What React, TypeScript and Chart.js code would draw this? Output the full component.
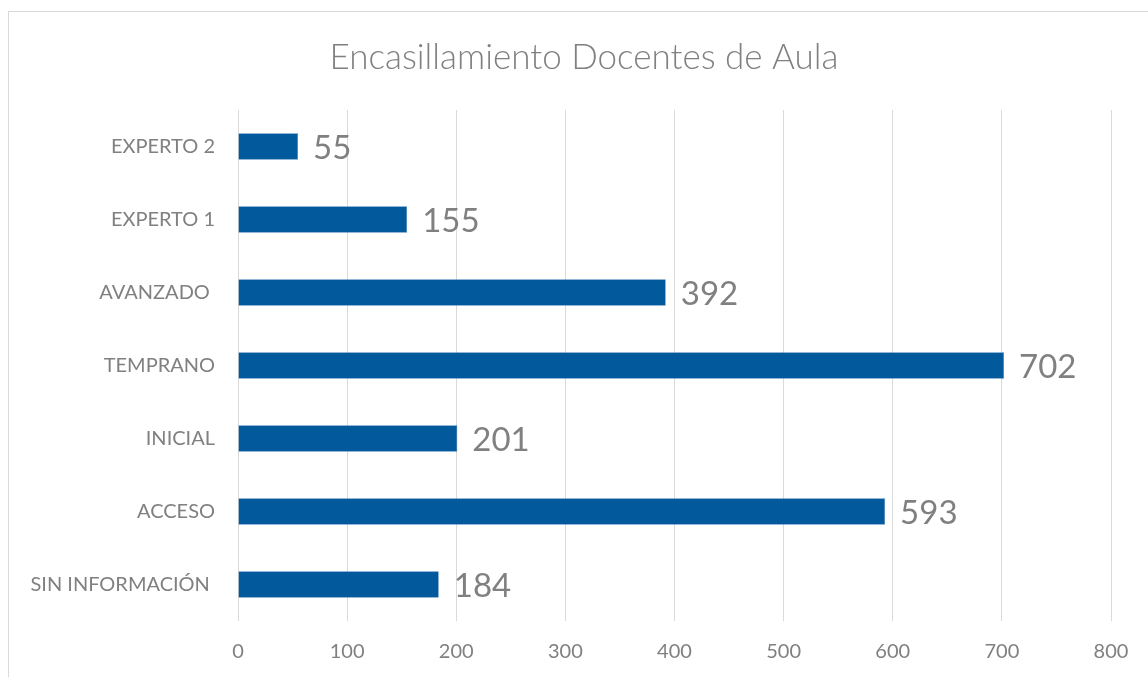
import React, { useEffect, useRef } from "react";
import { Chart, registerables } from "chart.js";

Chart.register(...registerables);

const titleText = "Encasillamiento Docentes de Aula";
const categories = [
  "EXPERTO 2",
  "EXPERTO 1",
  "AVANZADO ",
  "TEMPRANO",
  "INICIAL",
  "ACCESO",
  "SIN INFORMACIÓN ",
];
const values = [55, 155, 392, 702, 201, 593, 184];
const xMin = 0;
const xMax = 800;
const xStep = 100;

const FONT = "Lato, 'Open Sans', sans-serif";
const GRAY = "#808080";

const valueLabels = {
  id: "valueLabels",
  afterDatasetsDraw(chart: any) {
    const ctx = chart.ctx;
    const meta = chart.getDatasetMeta(0);
    ctx.save();
    ctx.font = `33px ${FONT}`;
    ctx.fillStyle = GRAY;
    ctx.textAlign = "left";
    ctx.textBaseline = "middle";
    meta.data.forEach((bar: any, i: number) => {
      ctx.fillText(String(values[i]), bar.x + 15, bar.y + 2);
    });
    ctx.restore();
  },
};

const offsetTitle = {
  id: "offsetTitle",
  afterDraw(chart: any) {
    const ctx = chart.ctx;
    ctx.save();
    ctx.font = `300 35px ${FONT}`;
    ctx.fillStyle = GRAY;
    ctx.textAlign = "center";
    ctx.textBaseline = "middle";
    ctx.fillText(titleText, chart.width / 2 + 10, 58);
    ctx.restore();
  },
};

export default function App() {
  const ref = useRef<HTMLCanvasElement | null>(null);
  useEffect(() => {
    if (!ref.current) return;
    const chart = new Chart(ref.current, {
      type: "bar",
      data: {
        labels: categories,
        datasets: [
          {
            data: values,
            backgroundColor: "#02599C",
            borderColor: "#3f7fb5",
            borderWidth: 0.6,
            barPercentage: 0.36,
            categoryPercentage: 1,
          },
        ],
      },
      options: {
        indexAxis: "y",
        animation: false,
        responsive: false,
        devicePixelRatio: 1,
        layout: { padding: { left: 0, right: 37, top: 110, bottom: 0 } },
        plugins: {
          legend: { display: false },
          tooltip: { enabled: false },
          title: { display: false },
        },
        scales: {
          x: {
            min: xMin,
            max: xMax,
            ticks: {
              stepSize: xStep,
              color: GRAY,
              font: { family: FONT, size: 20 },
              padding: 19,
            },
            grid: { color: "#d9d9d9", drawTicks: false },
            border: { display: false },
            afterFit: (s: any) => {
              s.height = 56;
            },
          },
          y: {
            ticks: {
              color: GRAY,
              font: { family: FONT, size: 20 },
              padding: 23,
            },
            grid: { display: false, drawTicks: false },
            border: { display: false },
            afterFit: (s: any) => {
              s.width = 238;
            },
          },
        },
      },
      plugins: [valueLabels, offsetTitle],
    });
    return () => chart.destroy();
  }, []);

  return (
    <div
      style={{
        position: "fixed",
        left: 0,
        top: 0,
        width: 1148,
        height: 677,
        overflow: "hidden",
        background: "#fff",
      }}
    >
      <div
        style={{
          position: "absolute",
          left: 8,
          top: 11,
          width: 1200,
          height: 700,
          border: "1px solid #d9d9d9",
        }}
      />
      <canvas
        ref={ref}
        width={1148}
        height={677}
        style={{ position: "absolute", left: 0, top: 0, width: 1148, height: 677 }}
      />
    </div>
  );
}
